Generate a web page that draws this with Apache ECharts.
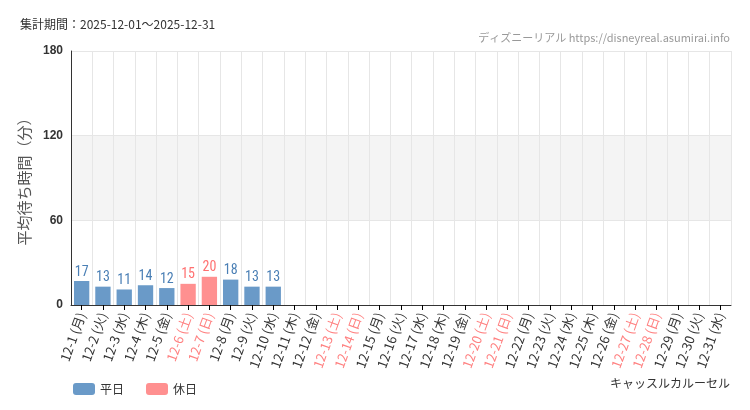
<!DOCTYPE html>
<html><head><meta charset="utf-8">
<script src="https://cdn.jsdelivr.net/npm/echarts@6/dist/echarts.min.js"></script>
<style>body{margin:0;background:#fff}#c{width:750px;height:410px}</style>
</head><body><div id="c"></div>
<script>
const days = ['月','火','水','木','金','土','日'];
const categories = [];
for (let d = 1; d <= 31; d++) categories.push('12-' + d + ' (' + days[(d - 1) % 7] + ')');
const holidays = [6, 7, 13, 14, 20, 21, 27, 28];
const waits = [17, 13, 11, 14, 12, 15, 20, 18, 13, 13];
const yTicks = [0, 60, 120, 180];

const weekday = categories.map((c, i) => (i < waits.length && !holidays.includes(i + 1)) ? waits[i] : null);
const holiday = categories.map((c, i) => (i < waits.length && holidays.includes(i + 1)) ? waits[i] : null);

const chart = echarts.init(document.getElementById('c'));
const lbl = color => ({ show: true, position: 'top', color: color, fontFamily: 'Roboto Condensed, Liberation Sans Narrow, sans-serif', fontSize: 14, distance: 2 });
chart.setOption({
  animation: false,
  graphic: [
    { type: 'text', left: 20, top: 18, style: { text: '集計期間：2025-12-01～2025-12-31', font: '12px "Noto Sans CJK JP"', fill: '#333' } },
    { type: 'text', right: 20, top: 32, style: { text: 'ディズニーリアル https://disneyreal.asumirai.info', font: '11px "Noto Sans CJK JP"', fill: '#999' } },
    { type: 'text', right: 20, top: 377, style: { text: 'キャッスルカルーセル', font: '12px "Noto Sans CJK JP"', fill: '#333' } }
  ],
  legend: { left: 68, top: 378, itemWidth: 22, itemHeight: 12, itemGap: 22, textStyle: { fontSize: 12, color: '#333', fontFamily: 'Noto Sans CJK JP' }, data: ['平日', '休日'] },
  grid: { left: 71, right: 19, top: 51, bottom: 105 },
  xAxis: {
    type: 'category', data: categories,
    axisLine: { lineStyle: { color: '#333' } },
    axisTick: { show: true, alignWithLabel: true, lineStyle: { color: '#000' } },
    splitLine: { show: true, lineStyle: { color: '#e6e6e6' } },
    axisLabel: { interval: 0, rotate: 70, fontSize: 13, fontFamily: 'Noto Sans CJK JP',
      color: (v, i) => holidays.includes(i + 1) ? '#ff8080' : '#333' }
  },
  yAxis: {
    type: 'value', min: 0, max: 180, interval: 60,
    name: '平均待ち時間（分）', nameLocation: 'middle', nameGap: 36, nameRotate: 90,
    nameTextStyle: { fontSize: 15, color: '#555', fontFamily: 'Noto Sans CJK JP' },
    axisLine: { show: true, lineStyle: { color: '#333' } },
    axisLabel: { fontWeight: 'bold', color: '#333', fontSize: 12, formatter: v => yTicks.includes(v) ? v : '' },
    splitLine: { lineStyle: { color: '#e6e6e6' } },
    splitArea: { show: true, areaStyle: { color: ['#fff', '#f4f4f4', '#fff'] } }
  },
  series: [
    { name: '平日', type: 'bar', stack: 'a', data: weekday, barWidth: '72%', itemStyle: { color: '#6a9ac8' }, label: lbl('#4a7fb5') },
    { name: '休日', type: 'bar', stack: 'a', data: holiday, barWidth: '72%', itemStyle: { color: '#ff9090' }, label: lbl('#ff7070') }
  ]
});
</script></body></html>
